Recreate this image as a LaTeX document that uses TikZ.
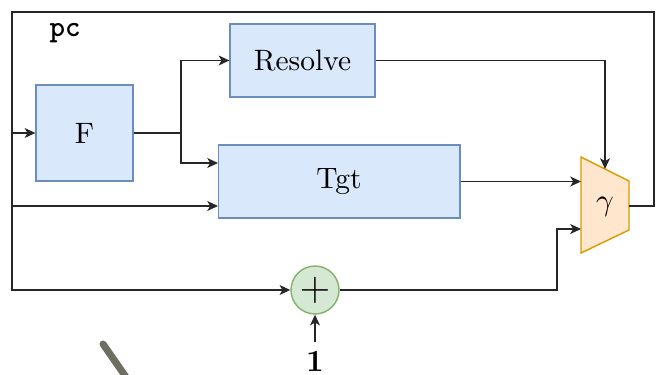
\documentclass[tikz,border=0pt]{standalone}
\usepackage{tikz}
\usetikzlibrary{arrows.meta}

\definecolor{blkfill}{HTML}{DAE8FC}
\definecolor{blkline}{HTML}{6C8EBF}
\definecolor{addfill}{HTML}{D5E8D4}
\definecolor{addline}{HTML}{82B366}
\definecolor{muxfill}{HTML}{FFE6CC}
\definecolor{muxline}{HTML}{D79B00}
\definecolor{penstroke}{HTML}{6E6E62}

\begin{document}
\begin{tikzpicture}[>={Stealth[length=3.8pt, width=3.5pt, inset=1pt]},
    font=\fontsize{10.5}{12}\selectfont,
    blk/.style={rectangle, draw=blkline, fill=blkfill, line width=0.5pt},
    adder/.style={circle, draw=addline, fill=addfill, line width=0.5pt, minimum size=0.6cm, inner sep=0pt},
    wire/.style={draw=black!85, line width=0.5pt}]
    \useasboundingbox (0,0) rectangle (8.325,-4.6875);

    \node[blk, minimum width=1.21cm, minimum height=1.2cm] (F) at (1.056, -1.6625) {F};
    \node[blk, minimum width=1.81cm, minimum height=0.91cm] (res) at (3.781, -0.756) {Resolve};
    \node[blk, minimum width=3.02cm, minimum height=0.91cm] (tgt) at (4.2375, -2.269) {Tgt};
    \node[adder] (plus) at (3.9375, -3.625) {\Large$+$};
    \node (one) at (3.9375, -4.525) {$\mathbf{1}$};
    \node (pc) at (0.8125, -0.4125) {\texttt{\textbf{pc}}};

    % mux
    \draw[draw=muxline, fill=muxfill, line width=0.5pt] (7.2625,-1.9625) -- (7.8625,-2.2625) -- (7.8625,-2.875) -- (7.2625,-3.1625) -- cycle;
    \node (gamma) at (7.5625, -2.5875) {$\gamma$};
    \coordinate (mux-top) at (7.5625, -2.1125);
    \coordinate (mux-in1) at (7.2625, -2.269);
    \coordinate (mux-in2) at (7.2625, -2.8625);
    \coordinate (mux-out) at (7.8625, -2.575);

    \coordinate (tr) at (8.175, -0.15);
    \coordinate (bl) at (0.15, -3.625);
    \coordinate (split) at (2.2625, -1.6625);
    \coordinate (bend) at (6.9625, -3.625);
    \coordinate (tgt-in1) at (2.725, -2.0375);
    \coordinate (tgt-in2) at (2.725, -2.575);

    \draw[wire, ->] (mux-out) -| (tr) -| (bl) -- (plus);
    \draw[wire, ->] (bl |- F.west) -- (F.west);
    \draw[wire, ->] (bl |- tgt-in2) -- (tgt-in2);
    \draw[wire] (F.east) -- (split);
    \draw[wire, ->] (split) |- (res.west);
    \draw[wire, ->] (split) |- (tgt-in1);
    \draw[wire, ->] (res.east) -| (mux-top);
    \draw[wire, ->] (tgt.east) -- (mux-in1);
    \draw[wire, ->] (plus) -- (bend) |- (mux-in2);
    \draw[wire, ->] (one) -- (plus);

    \begin{scope}
        \clip (0,0) rectangle (8.325,-4.6875);
        \draw[penstroke, line width=2.5pt, line cap=round] (1.2875,-4.3) -- (1.6,-4.75);
    \end{scope}

\end{tikzpicture}
\end{document}
